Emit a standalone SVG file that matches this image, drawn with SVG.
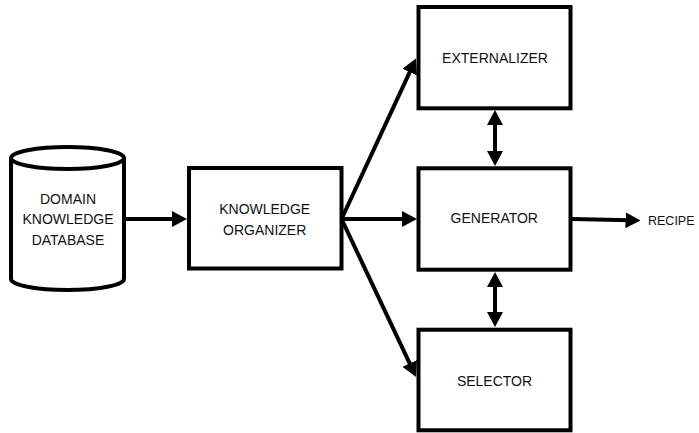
<svg xmlns="http://www.w3.org/2000/svg" width="699" height="433" viewBox="0 0 699 433">
<style>
.box{fill:#fff;stroke:#000;stroke-width:4}
.cyl{fill:#fff;stroke:#000;stroke-width:4}
.lbl{font-family:"Liberation Sans",Arial,sans-serif;font-size:14px;fill:#111;text-anchor:middle}
.con{stroke:#000;stroke-width:4;fill:none}
.arr{marker-end:url(#ah)}
.dbl{marker-end:url(#ah);marker-start:url(#ahs)}
</style>
<defs>
<marker id="ah" markerUnits="userSpaceOnUse" markerWidth="15" markerHeight="16" refX="5" refY="8" orient="auto">
<path d="M0,0 L15,8 L0,16 Z" fill="#000"/>
</marker>
<marker id="ahs" markerUnits="userSpaceOnUse" markerWidth="15" markerHeight="16" refX="5" refY="8" orient="auto-start-reverse">
<path d="M0,0 L15,8 L0,16 Z" fill="#000"/>
</marker>
</defs>
<g id="connectors">
<line class="con arr" x1="125" y1="219" x2="177" y2="219"/>
<line class="con arr" x1="342" y1="219" x2="407" y2="219"/>
<line class="con arr" x1="342" y1="218" x2="411.8" y2="67.6"/>
<line class="con arr" x1="342" y1="220" x2="411.8" y2="367.9"/>
<line class="con arr" x1="572" y1="219" x2="630.5" y2="220.3"/>
<line class="con dbl" x1="495" y1="120" x2="495" y2="156"/>
<line class="con dbl" x1="495" y1="282" x2="495" y2="317"/>
</g>
<g id="database">
<path class="cyl" d="M11,158 L11,279 A56.5,11 0 0 0 124,279 L124,158 A56.5,11 0 0 0 11,158 Z"/>
<path class="cyl" fill="none" d="M11,158 A56.5,11 0 0 0 124,158"/>
<text class="lbl" x="68" y="203.5">DOMAIN</text>
<text class="lbl" x="68" y="224">KNOWLEDGE</text>
<text class="lbl" x="68" y="244.5">DATABASE</text>
</g>
<g id="organizer">
<rect class="box" x="189" y="168" width="152.5" height="100.5"/>
<text class="lbl" x="264.7" y="214.3">KNOWLEDGE</text>
<text class="lbl" x="264.7" y="235">ORGANIZER</text>
</g>
<g id="externalizer">
<rect class="box" x="418.5" y="7" width="152" height="101.3"/>
<text class="lbl" x="495" y="62.7">EXTERNALIZER</text>
</g>
<g id="generator">
<rect class="box" x="418.5" y="168.3" width="152" height="101.4"/>
<text class="lbl" x="494.3" y="223.3">GENERATOR</text>
</g>
<g id="selector">
<rect class="box" x="418.5" y="329.7" width="152" height="100.6"/>
<text class="lbl" x="494.5" y="385.7">SELECTOR</text>
</g>
<g id="recipe">
<text class="lbl" x="648" y="225" style="text-anchor:start;font-size:12.5px">RECIPE</text>
</g>
</svg>
